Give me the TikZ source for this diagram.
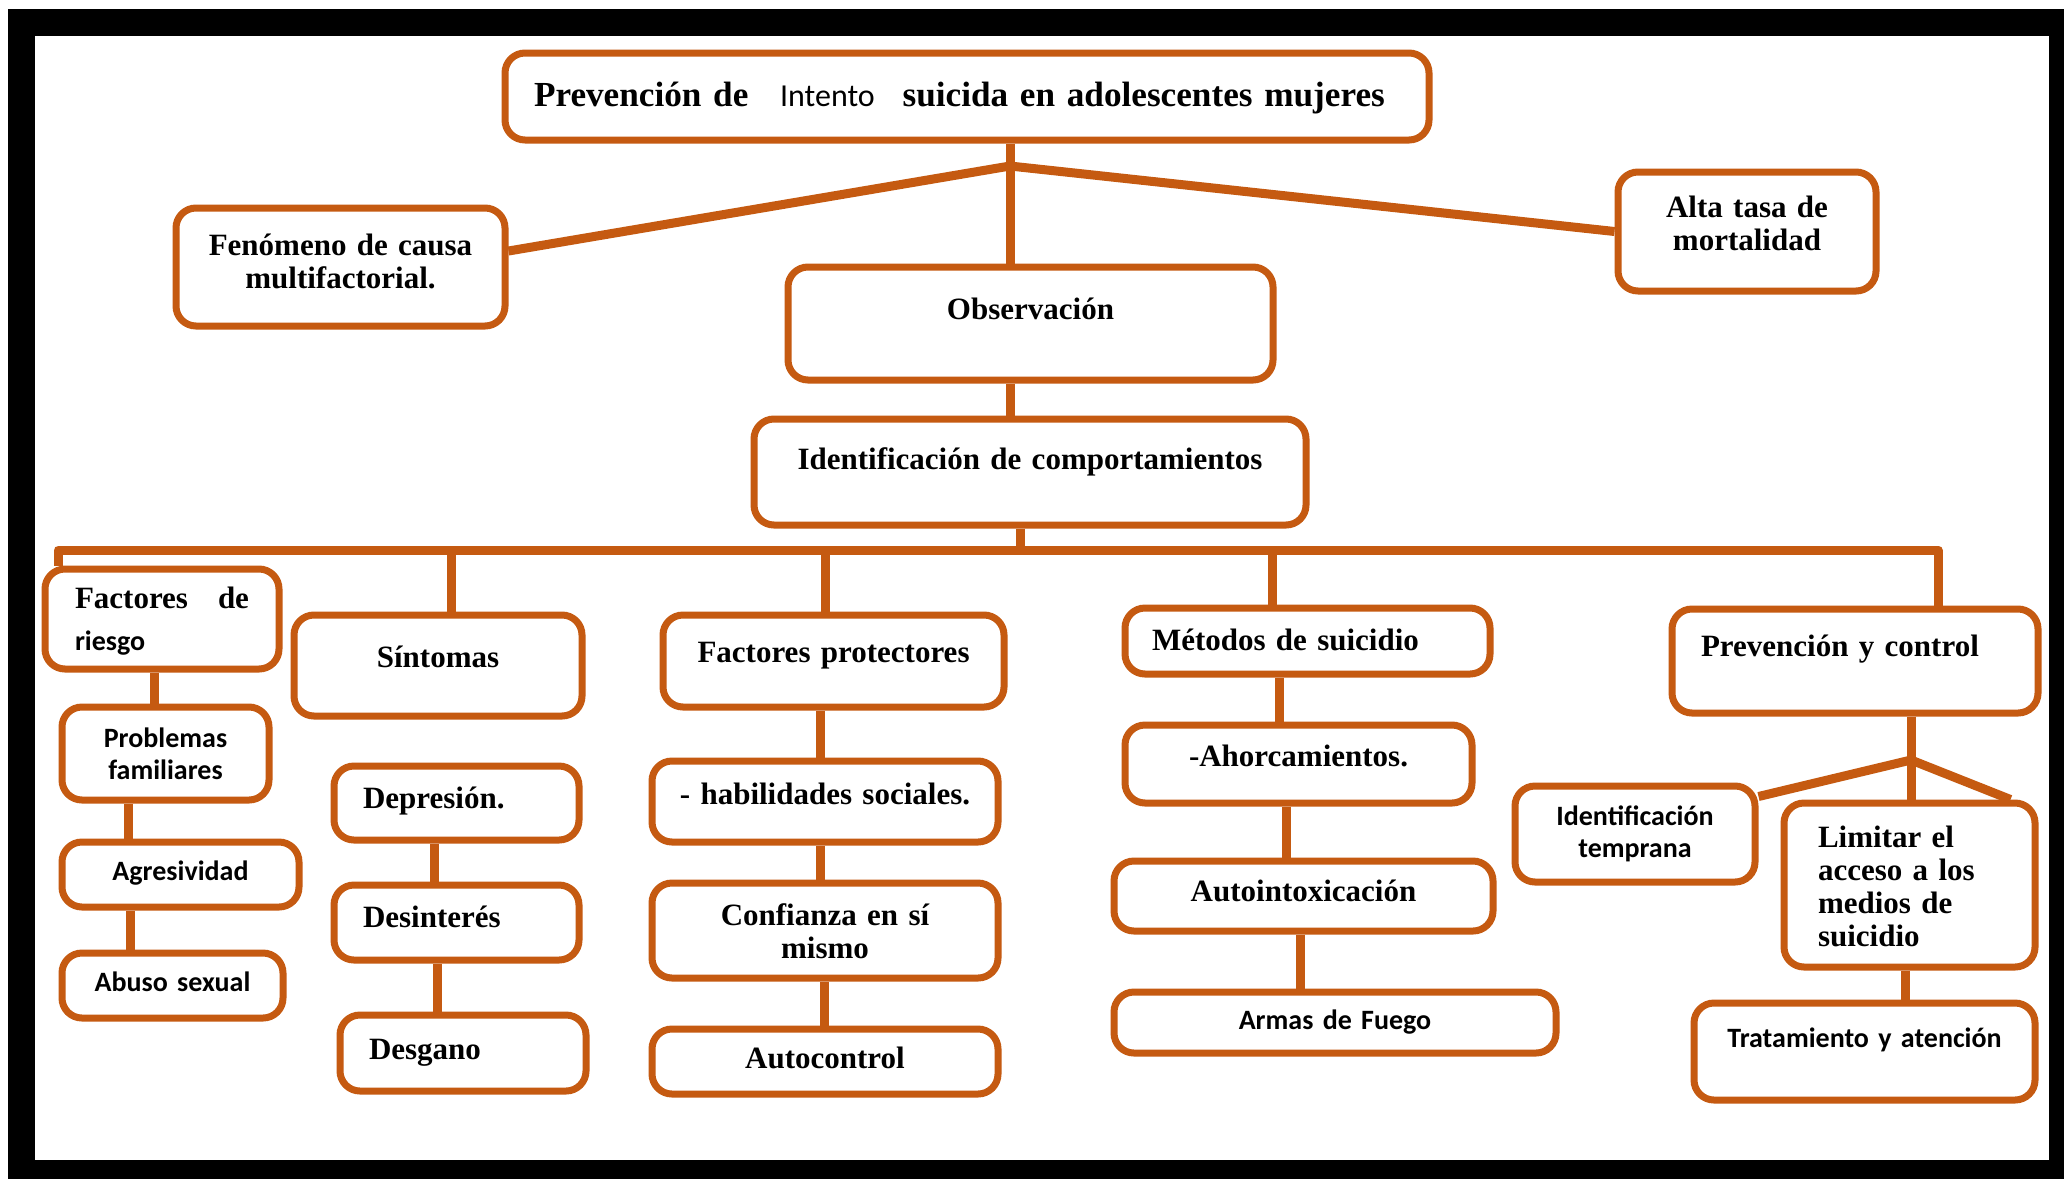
\documentclass[tikz,border=0pt]{standalone}
\usepackage{fontspec}
\setmainfont{Liberation Serif}
\newfontfamily\carl{Carlito}
\definecolor{orng}{RGB}{197,90,17}
\newcommand{\srf}{\bfseries\fontsize{15.5}{16.5}\selectfont}
\newcommand{\sns}{\carl\bfseries\fontsize{14}{16}\selectfont}
\tikzset{
  box/.style={draw=orng, line width=3.5pt, rounded corners=10pt, fill=white,
    inner xsep=0pt, inner ysep=0pt, align=center, font=\srf},
  lbox/.style={box, align=left, inner xsep=14.5pt},
  sbox/.style={box, font=\sns},
  link/.style={draw=orng, line width=4.5pt, line join=round},
}

\begin{document}
\begin{tikzpicture}[x=0.5pt,y=-0.5pt]
% frame
\fill[white] (0,0) rectangle (2064,1179);
\fill[black] (8,9) rectangle (2064,1179);
\fill[white] (35,36) rectangle (2049,1160);
\useasboundingbox (0,0) rectangle (2064,1179);

% top
\node[lbox, text width=433pt, text height=26.5pt, text depth=17pt,
  font=\bfseries\fontsize{17.6}{20}\selectfont] (title) at (967,96.5)
  {\mbox{Prevención de\hspace{10pt} {\carl\mdseries\fontsize{16}{18}\selectfont Intento}\hspace{8pt} suicida en adolescentes mujeres}};
\node[box, text width=164.5pt, text height=23.5pt, text depth=35.5pt] (fen) at (340.5,267) {Fenómeno de causa\\multifactorial.};
\node[box, text width=129pt, text height=22.5pt, text depth=37pt] (alta) at (1747,231.5) {Alta tasa de\\mortalidad};
\node[box, text width=242.5pt, text height=26pt, text depth=30.5pt] (obs) at (1030.5,323.5) {Observación};
\node[box, text width=276pt, text height=25pt, text depth=28pt] (ident) at (1030,472) {Identificación de comportamientos};

% factores de riesgo
\node[lbox, inner xsep=15pt, text width=87pt, text height=19.5pt, text depth=30.5pt] (riesgo) at (162,619) {Factores \hfill de\\[4.5pt]{\sns riesgo}};
\node[sbox, text width=103.5pt, text height=20pt, text depth=26.5pt] (prob) at (165.5,753.5) {Problemas\\familiares};
\node[sbox, text width=118.5pt, text height=19pt, text depth=13.5pt] (agre) at (180.5,874.5) {Agresividad};
\node[sbox, text width=110.5pt, text height=19pt, text depth=13.5pt] (abuso) at (172.5,985.5) {Abuso sexual};

% sintomas
\node[box, text width=144pt, text height=26pt, text depth=24.5pt] (sint) at (438,665.5) {Síntomas};
\node[lbox, text width=93.5pt, text height=21pt, text depth=16pt] (dep) at (456.5,803) {Depresión.};
\node[lbox, text width=93.5pt, text height=21pt, text depth=16.5pt] (desi) at (456.5,922.5) {Desinterés};
\node[lbox, text width=94pt, text height=22pt, text depth=16pt] (desg) at (463,1053) {Desgano};

% factores protectores
\node[box, text width=170.5pt, text height=23.5pt, text depth=22.5pt] (fp) at (833.5,661) {Factores protectores};
\node[box, text width=173pt, text height=21.5pt, text depth=19pt] (hab) at (825,801.5) {- habilidades sociales.};
\node[box, text width=173pt, text height=21pt, text depth=26.5pt] (conf) at (825,930.5) {Confianza en sí\\mismo};
\node[box, text width=173pt, text height=19.5pt, text depth=13pt] (auto) at (825,1061.5) {Autocontrol};

% metodos
\node[lbox, inner xsep=13.5pt, text width=155.5pt, text height=21pt, text depth=12pt] (met) at (1307.5,641) {Métodos de suicidio};
\node[box, text width=173.5pt, text height=20.5pt, text depth=18.5pt] (ahor) at (1298.5,764) {-Ahorcamientos.};
\node[box, text width=189.5pt, text height=20pt, text depth=15pt] (autoi) at (1303.5,896) {Autointoxicación};
\node[sbox, text width=221pt, text height=18.5pt, text depth=12pt] (armas) at (1335,1022.5) {Armas de Fuego};

% prevencion y control
\node[lbox, text width=154pt, text height=23.5pt, text depth=28.5pt] (prev) at (1855,661) {Prevención y control};
\node[sbox, text width=120pt, text height=19.5pt, text depth=28.5pt] (idt) at (1635,834) {Identificación\\temprana};
\node[lbox, inner xsep=17pt, text width=91.5pt, text height=22pt, text depth=60pt] (lim) at (1909.5,885) {Limitar el\\acceso a los\\medios de\\suicidio};
\node[sbox, text width=170.5pt, text height=22pt, text depth=26.5pt] (trat) at (1864.5,1051.5) {Tratamiento y atención};

% links
\coordinate (J1) at (1010,166);
\draw[link] (title.south -| J1) -- (J1) -- (J1 |- obs.north);
\draw[link] (J1) -- ([yshift=8pt]fen.east);
\draw[link] (J1) -- (alta.west);
\draw[link] (J1 |- obs.south) -- (J1 |- ident.north);

\coordinate (bl) at (58,550);
\coordinate (br) at (1938,550);
\draw[link] (ident.south -| 1020,0) -- (1020,550);
\draw[link] (riesgo.north -| bl) -- (bl) -- (br) -- (br |- prev.north);
\foreach \n/\x in {sint/451, fp/825, met/1272}
  \draw[link] (\x,550) -- (\n.north -| \x,0);

\foreach \a/\b/\x in {riesgo/prob/154, prob/agre/128, agre/abuso/130,
    dep/desi/434, desi/desg/437, fp/hab/820, hab/conf/820, conf/auto/824,
    met/ahor/1279, ahor/autoi/1286, autoi/armas/1300, lim/trat/1905}
  \draw[link] (\a.south -| \x,0) -- (\b.north -| \x,0);

\coordinate (J2) at (1911,760);
\draw[link] (prev.south -| J2) -- (J2);
\draw[link] (J2) -- ([yshift=-7pt]idt.north east);
\draw[link] (J2) -- (J2 |- lim.north);
\draw[link] (J2) -- ([xshift=-14pt]lim.north east);
\end{tikzpicture}
\end{document}
